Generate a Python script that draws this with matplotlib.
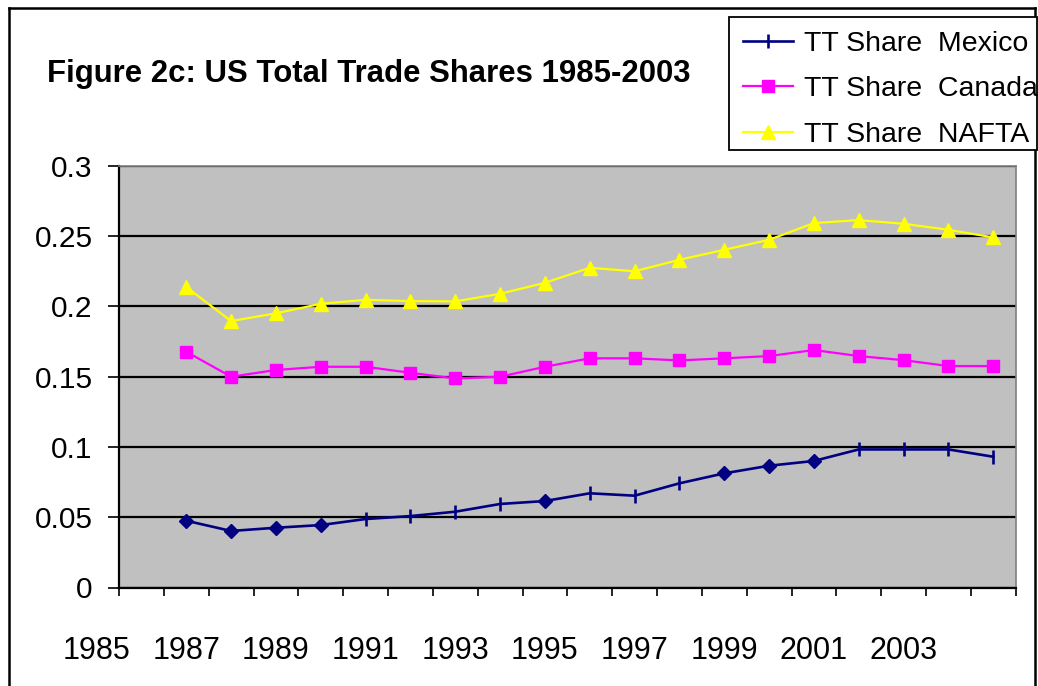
import matplotlib
matplotlib.use("Agg")
import matplotlib.pyplot as plt
from matplotlib.lines import Line2D
from matplotlib.patches import Rectangle
import matplotlib.transforms as mtransforms
import numpy as np

plt.rcParams['font.family'] = ['Liberation Sans', 'DejaVu Sans']

# ---- data ----
years = list(range(1985, 2004))          # 19 observations, drawn in category slots 1..19
mexico = [0.0475, 0.0402, 0.0425, 0.0444, 0.0487, 0.0508, 0.0539, 0.0594, 0.0615, 0.0670,
          0.0653, 0.0741, 0.0812, 0.0866, 0.0900, 0.0982, 0.0982, 0.0982, 0.0930]
canada = [0.1677, 0.1499, 0.1547, 0.1570, 0.1570, 0.1527, 0.1487, 0.1499, 0.1570, 0.1630,
          0.1630, 0.1615, 0.1630, 0.1646, 0.1689, 0.1646, 0.1617, 0.1575, 0.1575]
nafta = [0.2137, 0.1895, 0.1950, 0.2018, 0.2046, 0.2037, 0.2035, 0.2089, 0.2167, 0.2274,
         0.2249, 0.2331, 0.2402, 0.2473, 0.2592, 0.2613, 0.2587, 0.2544, 0.2490]
x_labels = ['1985', '1987', '1989', '1991', '1993', '1995', '1997', '1999', '2001', '2003']
y_ticks = [0, 0.05, 0.1, 0.15, 0.2, 0.25, 0.3]
y_ticklabels = ['0', '0.05', '0.1', '0.15', '0.2', '0.25', '0.3']
series_names = ['TT Share  Mexico', 'TT Share  Canada', 'TT Share  NAFTA']
title = 'Figure 2c: US Total Trade Shares 1985-2003'

# Mexico marker style alternates between diamonds and vertical dashes in the source
mex_diamond_idx = [0, 1, 2, 3, 8, 12, 13, 14]
mex_tick_idx = [i for i in range(len(mexico)) if i not in mex_diamond_idx]

W, H = 1038, 686
fig = plt.figure(figsize=(W / 100, H / 100), dpi=100)
fig.patch.set_facecolor('white')

left_px, right_px, top_px, bot_px = 119, 1015.7, 165.7, 587.5
ax = fig.add_axes([left_px / W, 1 - bot_px / H, (right_px - left_px) / W, (bot_px - top_px) / H])
ax.set_facecolor('#C0C0C0')

n_cat = len(years) + 1
xpos = np.arange(1, n_cat) + 0.5

navy, mag, yel = '#000080', '#FF00FF', '#FFFF00'

ax.plot(xpos, nafta, color=yel, lw=1.6, marker='^', ms=9.5, mec=yel, mfc=yel, zorder=3)
ax.plot(xpos, canada, color=mag, lw=1.6, marker='s', ms=8.5, mec=mag, mfc=mag, zorder=3)
ax.plot(xpos, mexico, color=navy, lw=1.9, zorder=3)
ax.plot(xpos, mexico, ls='none', marker='D', ms=6.8, color=navy, markevery=mex_diamond_idx, zorder=4)
ax.plot(xpos, mexico, ls='none', marker='|', ms=10, mew=1.9, color=navy, markevery=mex_tick_idx, zorder=4)

ax.set_xlim(0, n_cat)
ax.set_ylim(0, 0.3)
ax.set_yticks(y_ticks)
ax.set_yticklabels(y_ticklabels)
ax.set_xticks(np.arange(0, n_cat + 1))
ax.set_xticklabels([])
ax.yaxis.grid(True, color='black', lw=1.6)
ax.set_axisbelow(True)

ax.tick_params(axis='y', direction='out', length=8, width=1.2, labelsize=21.5, pad=11, colors='black')
ax.tick_params(axis='x', direction='out', length=6, width=1.2, colors='black')

for s in ['left', 'bottom']:
    ax.spines[s].set_color('black')
    ax.spines[s].set_linewidth(1.6)
for s in ['top', 'right']:
    ax.spines[s].set_color('#808080')
    ax.spines[s].set_linewidth(1.2)

# year labels every other category, starting one slot to the left of the axis
trans = mtransforms.blended_transform_factory(ax.transData, fig.transFigure)
for k, lab in enumerate(x_labels):
    ax.text(2 * k - 1 + 0.5, 1 - 651 / H, lab, transform=trans, ha='center', va='center',
            fontsize=22, clip_on=False)

fig.text(47 / W, 1 - 74 / H, title, ha='left', va='center', fontsize=22.4, fontweight='bold')

# legend box (drawn separately so its padding can match the original)
fig.add_artist(Rectangle((729 / W, 1 - 150 / H), (1037 - 729) / W, (150 - 17) / H,
                         transform=fig.transFigure, facecolor='white', edgecolor='black',
                         lw=1.3, zorder=4))

handles = [
    Line2D([], [], color=navy, lw=1.9, marker='|', ms=10, mew=1.9),
    Line2D([], [], color=mag, lw=1.6, marker='s', ms=8.5),
    Line2D([], [], color=yel, lw=1.6, marker='^', ms=9.5),
]
leg = fig.legend(handles, series_names, loc='upper left', bbox_to_anchor=(729 / W, 1 - 17 / H),
                 bbox_transform=fig.transFigure, borderaxespad=0, fontsize=20.5,
                 frameon=False, handlelength=1.75, handletextpad=0.38, borderpad=0.49,
                 labelspacing=0.68)
leg.set_zorder(5)

# outer chart border (left, top, right; bottom runs off the image)
fig.add_artist(Line2D([9 / W, 9 / W], [0, 1 - 8 / H], color='black', lw=1.8, transform=fig.transFigure))
fig.add_artist(Line2D([9 / W, 1035 / W], [1 - 8 / H, 1 - 8 / H], color='black', lw=1.8, transform=fig.transFigure))
fig.add_artist(Line2D([1035 / W, 1035 / W], [0, 1 - 8 / H], color='black', lw=1.8, transform=fig.transFigure))

fig.savefig('out.png', dpi=100)
